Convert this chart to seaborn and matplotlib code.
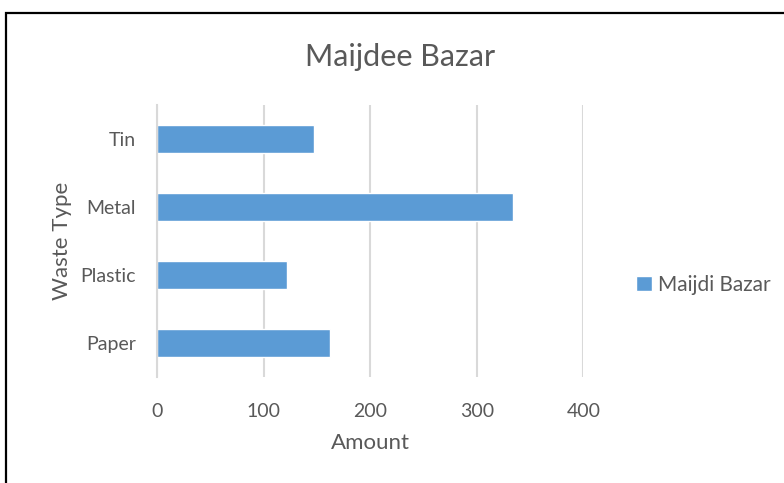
import matplotlib
matplotlib.use("Agg")
import matplotlib.pyplot as plt
import seaborn as sns
import pandas as pd
from matplotlib.patches import Rectangle

waste_types = ["Tin", "Metal", "Plastic", "Paper"]
amounts = [147, 334, 122, 162]
series_name = "Maijdi Bazar"
title = "Maijdee Bazar"
x_ticks = [0, 100, 200, 300, 400]

sns.set_theme(style="white")
plt.rcParams['font.family'] = ['Lato', 'DejaVu Sans']

txt = "#595959"
bar_color = "#5B9BD5"
grid = "#D9D9D9"

W, H = 784, 483
fig = plt.figure(figsize=(W / 100, H / 100), dpi=100)
ax = fig.add_axes([157 / W, 1 - 377 / H, (583.3 - 157) / W, (377 - 105) / H])

df = pd.DataFrame({"Waste Type": waste_types, "Amount": amounts})
sns.barplot(data=df, x="Amount", y="Waste Type", orient="h", color=bar_color,
            width=0.4, ax=ax, label=series_name, saturation=1)

ax.set_xlim(0, 400)
ax.set_ylim(3.5, -0.5)
ax.set_xticks(x_ticks)
ax.xaxis.grid(True, color=grid, linewidth=1.5)
ax.yaxis.grid(False)
ax.set_axisbelow(True)
for s in ["top", "right", "bottom"]:
    ax.spines[s].set_visible(False)
ax.spines["left"].set_color(grid)
ax.spines["left"].set_linewidth(1.5)
ax.tick_params(axis="both", length=0, labelsize=14, colors=txt)
ax.tick_params(axis="x", pad=19)
ax.tick_params(axis="y", pad=15)
ax.set_xlabel("Amount", fontsize=16, color=txt, labelpad=9)
ax.set_ylabel("Waste Type", fontsize=16, color=txt, labelpad=6)

fig.text(400 / W, 1 - 57 / H, title, ha="center", va="center", fontsize=22, color=txt)

handles, labels = ax.get_legend_handles_labels()
if ax.get_legend() is not None:
    ax.get_legend().remove()
fig.legend(handles, labels, loc="center left", bbox_to_anchor=(636 / W, 1 - 285 / H),
           frameon=False, fontsize=15, labelcolor=txt, handlelength=0.75, handleheight=0.75,
           handletextpad=0.3, borderaxespad=0, borderpad=0)

fig.patches.append(Rectangle((6 / W, -0.05), 1.2, 1 - 13 / H + 0.05, transform=fig.transFigure,
                             fill=False, edgecolor="black", linewidth=1.6, clip_on=False))

fig.savefig("out.png", dpi=100)
